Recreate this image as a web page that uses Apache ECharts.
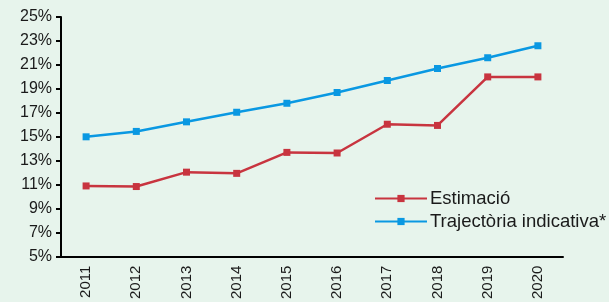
<!DOCTYPE html>
<html>
<head>
<meta charset="utf-8">
<script src="https://cdn.jsdelivr.net/npm/echarts@6/dist/echarts.min.js"></script>
<style>
html,body{margin:0;padding:0;background:#e7f4ec;}
#c{width:609px;height:302px;}
</style>
</head>
<body>
<div id="c"></div>
<script>
const years = ['2011','2012','2013','2014','2015','2016','2017','2018','2019','2020'];
const estimacio = [10.9, 10.85, 12.05, 11.95, 13.7, 13.65, 16.05, 15.95, 20.0, 20.0];
const trajectoria = [15.0, 15.45, 16.25, 17.05, 17.8, 18.7, 19.7, 20.7, 21.6, 22.6];
const yTicks = {min: 5, max: 25, interval: 2};

const font = 'Arial, "Liberation Sans", sans-serif';
const chart = echarts.init(document.getElementById('c'));
chart.setOption({
  backgroundColor: '#e7f4ec',
  animation: false,
  grid: {left: 61, right: 46, top: 17, bottom: 44},
  legend: {
    orient: 'vertical',
    left: 369, top: 184,
    itemWidth: 52, itemHeight: 9, itemGap: 4,
    textStyle: {fontFamily: font, fontSize: 18.5, color: '#1a1a1a', padding: [0,0,0,-2]},
    data: ['Estimació', 'Trajectòria indicativa*']
  },
  xAxis: {
    type: 'category',
    data: years,
    boundaryGap: true,
    axisLine: {lineStyle: {color: '#000', width: 2}},
    axisTick: {inside: false, length: 5, lineStyle: {color: '#000', width: 2}},
    axisLabel: {rotate: 90, margin: 9, fontFamily: font, fontSize: 15, color: '#1a1a1a'},
    splitLine: {show: false}
  },
  yAxis: {
    type: 'value',
    min: yTicks.min, max: yTicks.max, interval: yTicks.interval,
    axisLine: {show: true, lineStyle: {color: '#000', width: 2}},
    axisTick: {show: true, length: 5, lineStyle: {color: '#000', width: 2}},
    axisLabel: {formatter: '{value}%', margin: 9, fontFamily: font, fontSize: 16, color: '#1a1a1a'},
    splitLine: {show: false}
  },
  series: [
    {
      name: 'Estimació', type: 'line', data: estimacio,
      symbol: 'rect', symbolSize: 7,
      lineStyle: {color: '#c8343f', width: 2.5},
      itemStyle: {color: '#c8343f'}
    },
    {
      name: 'Trajectòria indicativa*', type: 'line', data: trajectoria,
      symbol: 'rect', symbolSize: 7,
      lineStyle: {color: '#0a98e2', width: 2.5},
      itemStyle: {color: '#0a98e2'}
    }
  ]
});
</script>
</body>
</html>
